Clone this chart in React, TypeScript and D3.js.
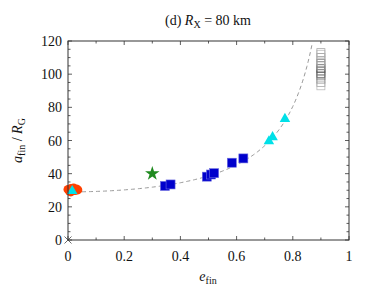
import * as d3 from "d3";

const width = 374;
const height = 299;
const marginLeft = 68;
const marginRight = 25;
const marginTop = 41;
const marginBottom = 59;

const xTicks = [0, 0.2, 0.4, 0.6, 0.8, 1];
const yTicks = [0, 20, 40, 60, 80, 100, 120];

// orange circles near e=0
const redE = [0.0, 0.005, 0.01, 0.015, 0.02, 0.025, 0.03, 0.035, 0.01, 0.02];
const redA = [30.5, 29.5, 31, 30, 30.5, 29.8, 30.8, 30.2, 29, 31.3];

const cyanE = [0.015, 0.715, 0.728, 0.772];
const cyanA = [29.5, 59.5, 62, 73];

const blueE = [0.345, 0.365, 0.494, 0.509, 0.52, 0.583, 0.624];
const blueA = [32.6, 33.5, 38.2, 39.5, 40.3, 46.6, 49.2];

const starE = [0.3];
const starA = [40];

const grayE = [0.9, 0.9, 0.9, 0.9, 0.9, 0.9, 0.9, 0.9, 0.9, 0.9, 0.9, 0.9, 0.9];
const grayA = [93, 95, 97, 99, 100.5, 102, 103.5, 105, 106.5, 108, 110, 112, 113];
const grayShade = ["#bbb", "#aaa", "#999", "#888", "#666", "#777", "#555", "#999", "#888", "#aaa", "#999", "#bbb", "#aaa"];

const crossE = [0];
const crossA = [0];

// reference curve a = a0 / (1 - e^2)
const a0 = 29;

const serif = "Liberation Serif";

export default function App() {
  const x = d3.scaleLinear([0, 1], [marginLeft, width - marginRight]);
  const y = d3.scaleLinear([0, 120], [height - marginBottom, marginTop]);

  const eMax = Math.sqrt(1 - a0 / 118);
  const curveE = d3.range(0, eMax, 0.005).concat([eMax]);
  const curve = d3.line<number>((e) => x(e), (e) => y(a0 / (1 - e * e)));

  const xMinor = d3.range(0, 1.0001, 0.1);
  const yMinor = d3.range(0, 120.001, 5);

  const star = d3.symbol(d3.symbolStar, 65)() || "";
  const tri = d3.symbol(d3.symbolTriangle, 48)() || "";

  const x0 = x(0), x1 = x(1), y0 = y(0), y1 = y(120);

  return (
    <div style={{ position: "absolute", left: 0, top: 0 }}>
      <svg width={width} height={height} style={{ display: "block", background: "#fff" }}>
        <g fontFamily={serif}>
        <text x={208} y={25} fontSize={14} textAnchor="middle" fill="#111">
          (d) <tspan fontStyle="italic">R</tspan>
          <tspan fontSize={10} dy={3}>X</tspan>
          <tspan dy={-3}> = 80 km</tspan>
        </text>

        {/* ticks */}
        <g stroke="#333" strokeWidth={0.8}>
          {xMinor.map((t, i) => {
            const len = i % 2 === 0 ? 4 : 2.5;
            return (
              <g key={"xt" + i}>
                <line x1={x(t)} x2={x(t)} y1={y0} y2={y0 - len} />
                <line x1={x(t)} x2={x(t)} y1={y1} y2={y1 + len} />
              </g>
            );
          })}
          {yMinor.map((t, i) => {
            const len = i % 4 === 0 ? 4 : 2.5;
            return (
              <g key={"yt" + i}>
                <line x1={x0} x2={x0 + len} y1={y(t)} y2={y(t)} />
                <line x1={x1} x2={x1 - len} y1={y(t)} y2={y(t)} />
              </g>
            );
          })}
        </g>

        <path
          d={curve(curveE) || ""}
          fill="none"
          stroke="#999"
          strokeWidth={1}
          strokeDasharray="4,3"
        />

        {/* gray open squares */}
        {grayE.map((e, i) => (
          <rect key={"g" + i} x={x(e) - 4} y={y(grayA[i]) - 4} width={8} height={8}
            fill="none" stroke={grayShade[i]} strokeWidth={0.8} />
        ))}

        {/* orange circles */}
        {redE.map((e, i) => (
          <circle key={"r" + i} cx={x(e)} cy={y(redA[i])} r={4.5} fill="#ff4000" />
        ))}

        {/* blue squares */}
        {blueE.map((e, i) => (
          <rect key={"b" + i} x={x(e) - 4.5} y={y(blueA[i]) - 4.5} width={9} height={9}
            fill="#0000cc" stroke="#6a6ae0" strokeWidth={0.6} />
        ))}

        {/* cyan triangles */}
        {cyanE.map((e, i) => (
          <path key={"c" + i} d={tri} transform={`translate(${x(e)},${y(cyanA[i])})`} fill="#00e0e8" />
        ))}

        {starE.map((e, i) => (
          <path key={"s" + i} d={star} transform={`translate(${x(e)},${y(starA[i])})`} fill="#1f8a1f" />
        ))}

        {crossE.map((e, i) => (
          <g key={"x" + i} transform={`translate(${x(e)},${y(crossA[i])})`} stroke="#444" strokeWidth={0.8}>
            <line x1={-3.5} y1={-3.5} x2={3.5} y2={3.5} />
            <line x1={-3.5} y1={3.5} x2={3.5} y2={-3.5} />
          </g>
        ))}

        <rect x={x0} y={y1} width={x1 - x0} height={y0 - y1} fill="none" stroke="#333" strokeWidth={1} />

        {/* tick labels */}
        <g fontSize={14} fill="#111">
          {xTicks.map((t) => (
            <text key={"xl" + t} x={x(t)} y={y0 + 21} textAnchor="middle">{String(t)}</text>
          ))}
          {yTicks.map((t) => (
            <text key={"yl" + t} x={x0 - 6} y={y(t) + 5} textAnchor="end">{String(t)}</text>
          ))}
        </g>

        <text x={208} y={281} fontSize={14} textAnchor="middle" fill="#111">
          <tspan fontStyle="italic">e</tspan>
          <tspan fontSize={10} dy={3}>fin</tspan>
        </text>

        <text transform={`translate(22,${(y0 + y1) / 2}) rotate(-90)`} fontSize={14} textAnchor="middle" fill="#111">
          <tspan fontStyle="italic">a</tspan>
          <tspan fontSize={10} dy={3}>fin</tspan>
          <tspan dy={-3}> / </tspan>
          <tspan fontStyle="italic">R</tspan>
          <tspan fontSize={10} dy={3}>G</tspan>
        </text>
        </g>
      </svg>
    </div>
  );
}
